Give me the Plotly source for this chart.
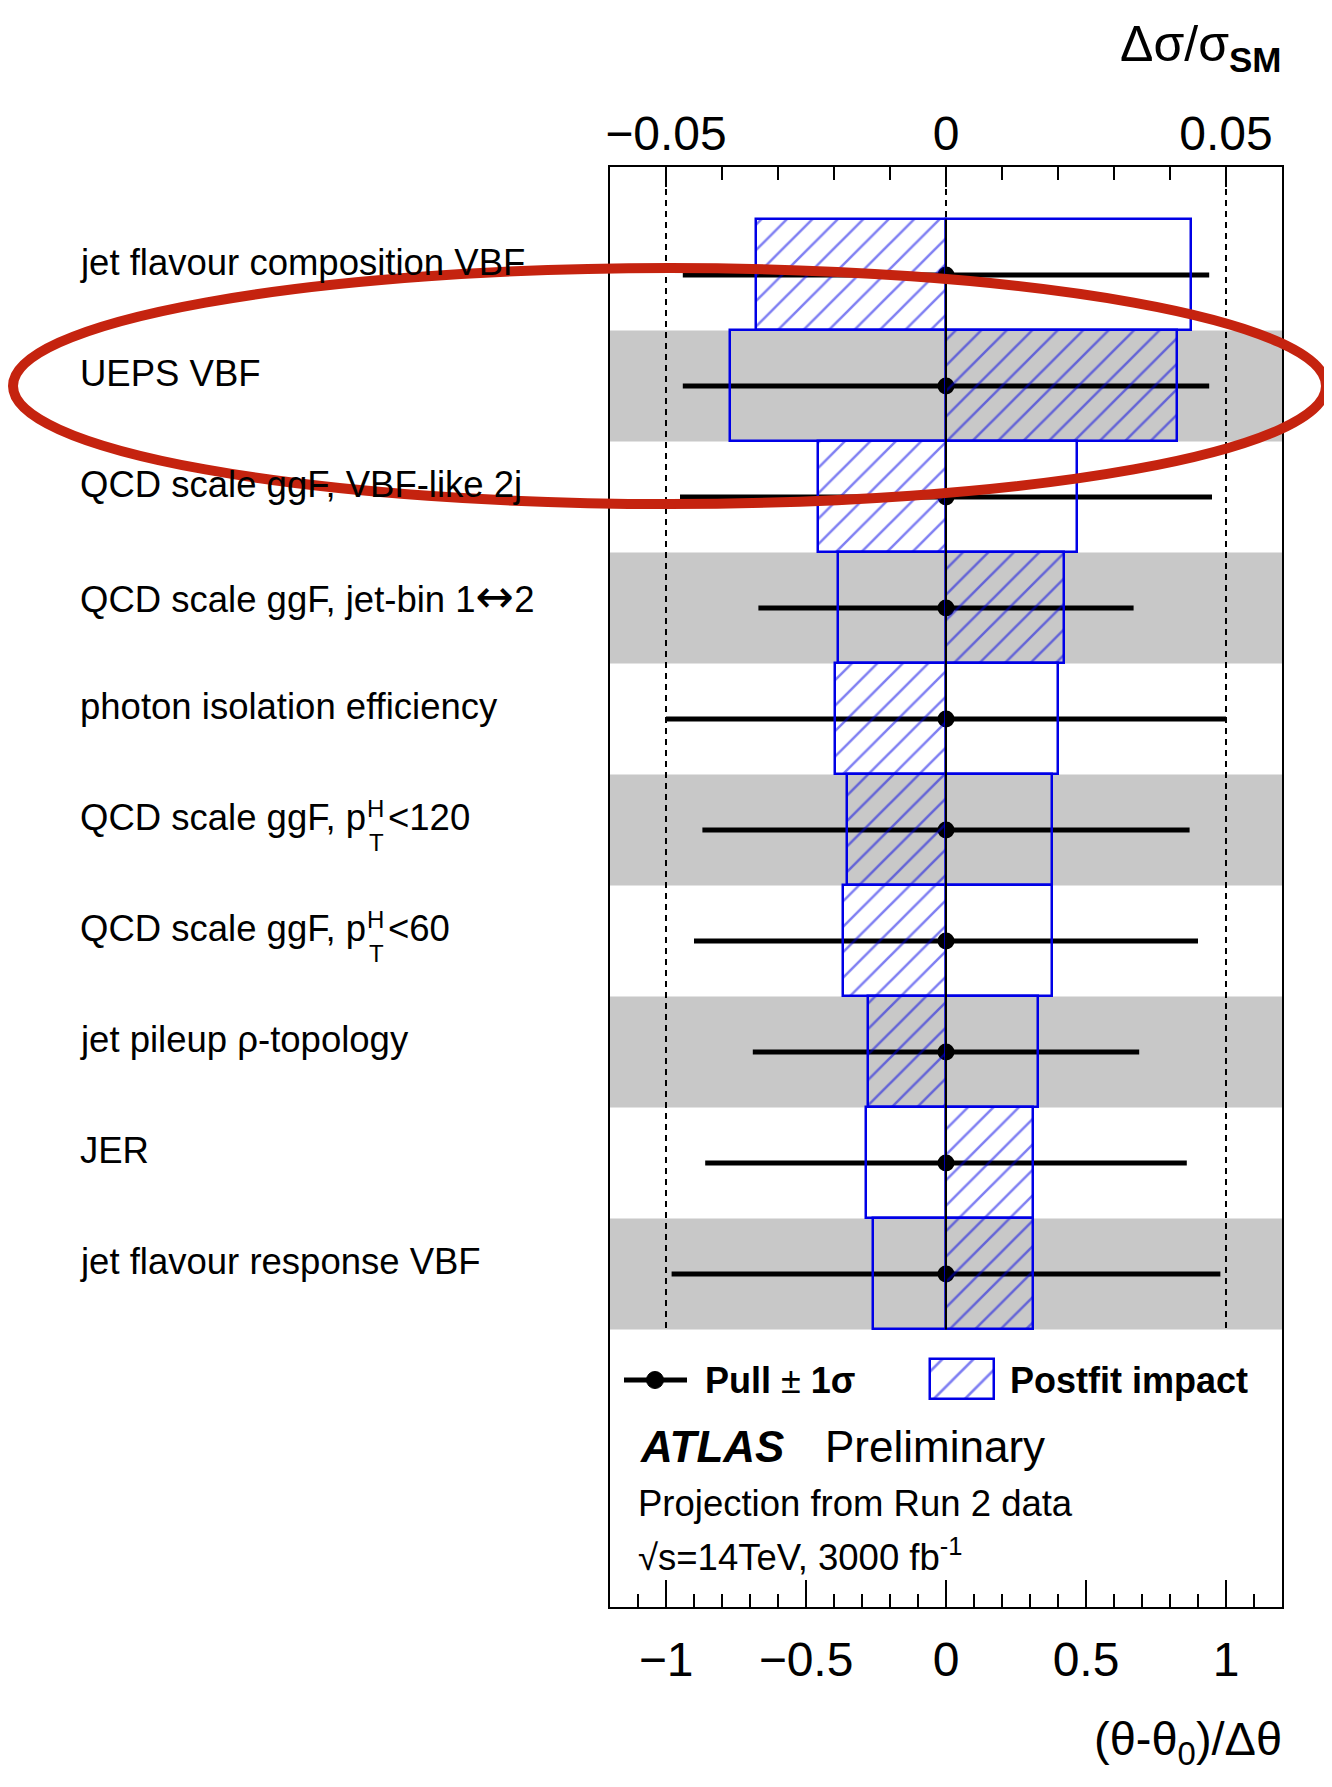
import plotly.graph_objects as go

# ---------------- data ----------------
labels = [
    "jet flavour composition VBF",
    "UEPS VBF",
    "QCD scale ggF, VBF-like 2j",
    "QCD scale ggF, jet-bin 1<span style=\"font-family:DejaVu Sans;font-size:46px\">↔</span>2",
    "photon isolation efficiency",
    "QCD scale ggF, p_{T}^{H}&lt;120",
    "QCD scale ggF, p_{T}^{H}&lt;60",
    "jet pileup ρ-topology",
    "JER",
    "jet flavour response VBF",
]
# postfit impact (Δσ/σ_SM): hatched and open boxes
impact_hatched = [-0.0340, 0.0413, -0.0228, 0.0211, -0.0198, -0.0176, -0.0184, -0.0140, 0.0155, 0.0155]
impact_open = [0.0438, -0.0386, 0.0234, -0.0193, 0.0200, 0.0189, 0.0189, 0.0164, -0.0143, -0.0131]
# pulls (θ-θ0)/Δθ
pull_center = [0, 0, 0, 0, 0, 0, 0, 0, 0, 0]
pull_err = [0.94, 0.94, 0.95, 0.67, 1.00, 0.87, 0.90, 0.69, 0.86, 0.98]

pull_ticks_dtick = 0.5
impact_ticks_dtick = 0.05

# ---------------- geometry / style (page pixel coordinates) ----------------
PAGE_W, PAGE_H = 1332, 1787
OFF = 8  # default body margin of the page
FW, FH = PAGE_W - OFF, PAGE_H - OFF
PL, PR, PT, PB = 610, 1282, 167, 1607
ROW_TOP, ROW_H = 219.4, 111.0
FONT = "Liberation Sans, Arial, Helvetica, sans-serif"
BLUE = "#0000e6"
GRAY = "#c8c8c8"

def px_x(px):
    return (px - PL) / (PR - PL)

def px_y(py):
    return (PB - py) / (PB - PT)

def ydata(py):
    return (py - ROW_TOP) / ROW_H - 0.5

def xpull(px):
    return (px - (PL + PR) / 2) / ((PR - PL) / 2.4)

rows = list(range(len(labels)))
y_top = ydata(PT)
y_bot = ydata(PB)

fig = go.Figure()

pattern = dict(shape="/", size=18, solidity=0.14, fgcolor=BLUE, bgcolor="rgba(0,0,0,0)")

fig.add_trace(go.Bar(
    y=rows, x=impact_open, base=0, width=1, orientation="h",
    marker=dict(color="rgba(0,0,0,0)", line=dict(color=BLUE, width=2.5)),
    xaxis="x2", yaxis="y", showlegend=False, hoverinfo="skip"))
fig.add_trace(go.Bar(
    y=rows, x=impact_hatched, base=0, width=1, orientation="h",
    marker=dict(color="rgba(0,0,0,0)", line=dict(color=BLUE, width=2.5), pattern=pattern),
    xaxis="x2", yaxis="y", showlegend=False, hoverinfo="skip"))

# legend key for postfit impact (hatched box)
lx0, lx1 = xpull(930), xpull(994)
fig.add_trace(go.Bar(
    y=[ydata(1379)], x=[lx1 - lx0], base=[lx0], width=[40 / ROW_H], orientation="h",
    marker=dict(color="rgba(0,0,0,0)", line=dict(color=BLUE, width=2.5),
                pattern=dict(shape="/", size=22, solidity=0.12, fgcolor=BLUE, bgcolor="rgba(0,0,0,0)")),
    xaxis="x", yaxis="y", showlegend=False, hoverinfo="skip"))

fig.add_trace(go.Scatter(
    x=pull_center, y=rows, mode="markers",
    marker=dict(color="black", size=17),
    error_x=dict(type="data", array=pull_err, symmetric=True, color="black", thickness=5, width=0),
    xaxis="x", yaxis="y", showlegend=False, hoverinfo="skip"))

shapes = []
for i in rows:
    if i % 2 == 1:
        shapes.append(dict(type="rect", xref="paper", yref="y", x0=0, x1=1, y0=i - 0.5, y1=i + 0.5,
                           fillcolor=GRAY, line=dict(width=0), layer="below"))
for xv in (-1, 0, 1):
    shapes.append(dict(type="line", xref="x", yref="y", x0=xv, x1=xv, y0=y_top, y1=rows[-1] + 0.5,
                       line=dict(color="black", width=2, dash="6px,5px"), layer="above"))
shapes.append(dict(type="line", xref="x", yref="y", x0=0, x1=0, y0=-0.5, y1=rows[-1] + 0.5,
                   line=dict(color="black", width=2), layer="above"))
# legend key for pull
shapes.append(dict(type="line", xref="paper", yref="paper", x0=px_x(624), x1=px_x(687),
                   y0=px_y(1380), y1=px_y(1380), line=dict(color="black", width=5)))
shapes.append(dict(type="circle", xref="paper", yref="paper", x0=px_x(646.5), x1=px_x(663.5),
                   y0=px_y(1388.5), y1=px_y(1371.5), fillcolor="black", line=dict(color="black", width=1)))
# red highlight ellipse
shapes.append(dict(type="circle", xref="paper", yref="paper", x0=px_x(13), x1=px_x(1326),
                   y0=px_y(504), y1=px_y(268), line=dict(color="#c5230f", width=10), layer="above"))

ann = []
LX = 77.5
for i, lab in enumerate(labels):
    if "_{T}^{H}" in lab:
        pre, suf = lab.split("_{T}^{H}")
        ann.append(dict(text=pre, xref="paper", yref="y", x=px_x(LX), y=i, xanchor="left",
                        yanchor="middle", yshift=12, showarrow=False, font=dict(size=36.5, family=FONT, color="black")))
        ann.append(dict(text="H", xref="paper", yref="y", x=px_x(375), y=i, xanchor="center",
                        yanchor="middle", yshift=21, showarrow=False, font=dict(size=24, family=FONT, color="black")))
        ann.append(dict(text="T", xref="paper", yref="y", x=px_x(376), y=i, xanchor="center",
                        yanchor="middle", yshift=-13, showarrow=False, font=dict(size=24, family=FONT, color="black")))
        ann.append(dict(text=suf, xref="paper", yref="y", x=px_x(386), y=i, xanchor="left",
                        yanchor="middle", yshift=12, showarrow=False, font=dict(size=36.5, family=FONT, color="black")))
    else:
        ann.append(dict(text=lab, xref="paper", yref="y", x=px_x(LX), y=i, xanchor="left",
                        yanchor="middle", yshift=12, showarrow=False, font=dict(size=36.5, family=FONT, color="black")))

def txt(text, x, y, size, anchor="left"):
    ann.append(dict(text=text, xref="paper", yref="paper", x=px_x(x), y=px_y(y), xanchor=anchor,
                    yanchor="middle", showarrow=False, font=dict(size=size, family=FONT, color="black")))

txt("<b>Pull</b> ± <b>1σ</b>", 703, 1380, 36)
txt("<b>Postfit impact</b>", 1008, 1380, 36)
txt("<b><i>ATLAS</i></b>", 638, 1446, 44)
txt("Preliminary", 823, 1446, 44)
txt("Projection from Run 2 data", 636, 1503, 36.5)
txt("√s=14TeV, 3000 fb<sup>-1</sup>", 636, 1555, 36.5)
txt("Δσ/σ<sub><b>SM</b></sub>", 1284, 47, 50, "right")
txt("(θ-θ<sub>0</sub>)/Δθ", 1284, 1742, 47, "right")

axis_common = dict(showgrid=False, zeroline=False, showline=True, linecolor="black", linewidth=2,
                   ticks="inside", tickcolor="black", tickwidth=2,
                   tickfont=dict(size=48, family=FONT, color="black"))

fig.update_layout(
    width=FW, height=FH,
    margin=dict(l=PL - OFF, r=PAGE_W - PR, t=PT - OFF, b=PAGE_H - PB, autoexpand=False),
    paper_bgcolor="white", plot_bgcolor="white",
    barmode="overlay", bargap=0,
    shapes=shapes, annotations=ann,
    xaxis=dict(range=[-1.2, 1.2], tickmode="linear", tick0=0, dtick=pull_ticks_dtick, ticklen=27,
               minor=dict(dtick=0.1, tick0=0, ticks="inside", ticklen=13, tickwidth=2, tickcolor="black", showgrid=False),
               ticklabelstandoff=9, automargin=False, **axis_common),
    xaxis2=dict(range=[-0.06, 0.06], overlaying="x", side="top", anchor="y",
                tickmode="linear", tick0=0, dtick=impact_ticks_dtick, ticklen=20,
                minor=dict(dtick=0.01, tick0=0, ticks="inside", ticklen=13, tickwidth=2, tickcolor="black", showgrid=False),
                ticklabelstandoff=-4, automargin=False, **axis_common),
    yaxis=dict(range=[y_bot, y_top], showgrid=False, zeroline=False, showline=True, mirror=True,
               linecolor="black", linewidth=2, showticklabels=False, ticks="", automargin=False),
    font=dict(family=FONT),
)

fig.write_html("out.html")
